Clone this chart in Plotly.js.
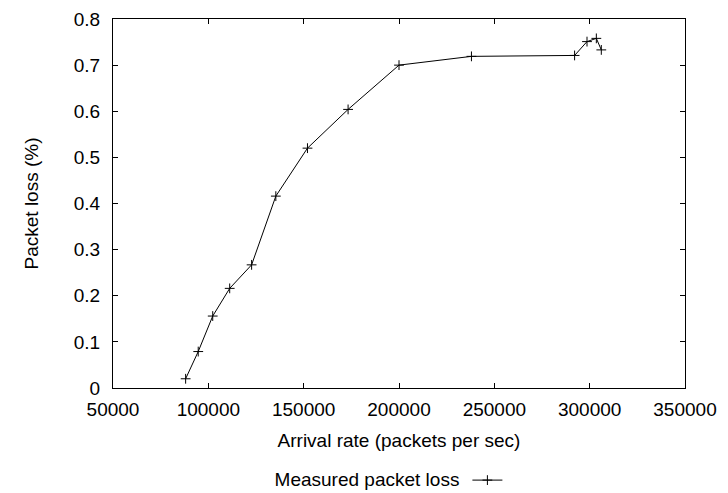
<!DOCTYPE html>
<html>
<head>
<meta charset="utf-8">
<script src="https://cdn.plot.ly/plotly-3.0.1.min.js"></script>
<style>html,body{margin:0;padding:0;background:#fff;}#chart{width:728px;height:493px;}</style>
</head>
<body>
<div id="chart"></div>
<script>
const arrivalRate = [88100, 94700, 102300, 111200, 122700, 135400, 152000, 173300, 200000, 238000, 292100, 298600, 303500, 306100];
const packetLoss = [0.020, 0.079, 0.156, 0.216, 0.267, 0.416, 0.520, 0.604, 0.700, 0.719, 0.721, 0.751, 0.758, 0.733];
const seriesName = "Measured packet loss";
const xTitle = "Arrival rate (packets per sec)";
const yTitle = "Packet loss (%)";

const font = {family: "Liberation Sans, Arial, Helvetica, sans-serif", size: 19, color: "#000"};

const trace = {
  x: arrivalRate,
  y: packetLoss,
  type: "scatter",
  mode: "lines+markers",
  name: " ",
  line: {color: "#000", width: 1},
  marker: {symbol: "cross-thin", size: 7, color: "#000", line: {color: "#000", width: 1}}
};

const layout = {
  width: 728, height: 493,
  margin: {l: 113, r: 43, t: 19, b: 105, autoexpand: false},
  paper_bgcolor: "#fff", plot_bgcolor: "#fff",
  font: font,
  showlegend: true,
  legend: {
    orientation: "h", x: 0.494, xanchor: "center", y: -0.25, yanchor: "middle",
    title: {text: seriesName, side: "left", font: font},
    font: font, bgcolor: "rgba(0,0,0,0)"
  },
  xaxis: {
    range: [50000, 350000], dtick: 50000, tick0: 50000, tickformat: "d",
    showgrid: false, zeroline: false,
    showline: true, linecolor: "#000", linewidth: 1, mirror: "ticks",
    ticks: "inside", ticklen: 5, tickcolor: "#000", tickwidth: 1,
    tickfont: font, ticklabelstandoff: 4,
    title: {text: xTitle, font: font, standoff: 14}
  },
  yaxis: {
    range: [0, 0.8], dtick: 0.1, tick0: 0,
    showgrid: false, zeroline: false,
    showline: true, linecolor: "#000", linewidth: 1, mirror: "ticks",
    ticks: "inside", ticklen: 5, tickcolor: "#000", tickwidth: 1,
    tickfont: font, ticklabelstandoff: 8,
    title: {text: yTitle, font: font, standoff: 30}
  }
};

Plotly.newPlot("chart", [trace], layout, {displayModeBar: false, staticPlot: true});
</script>
</body>
</html>
